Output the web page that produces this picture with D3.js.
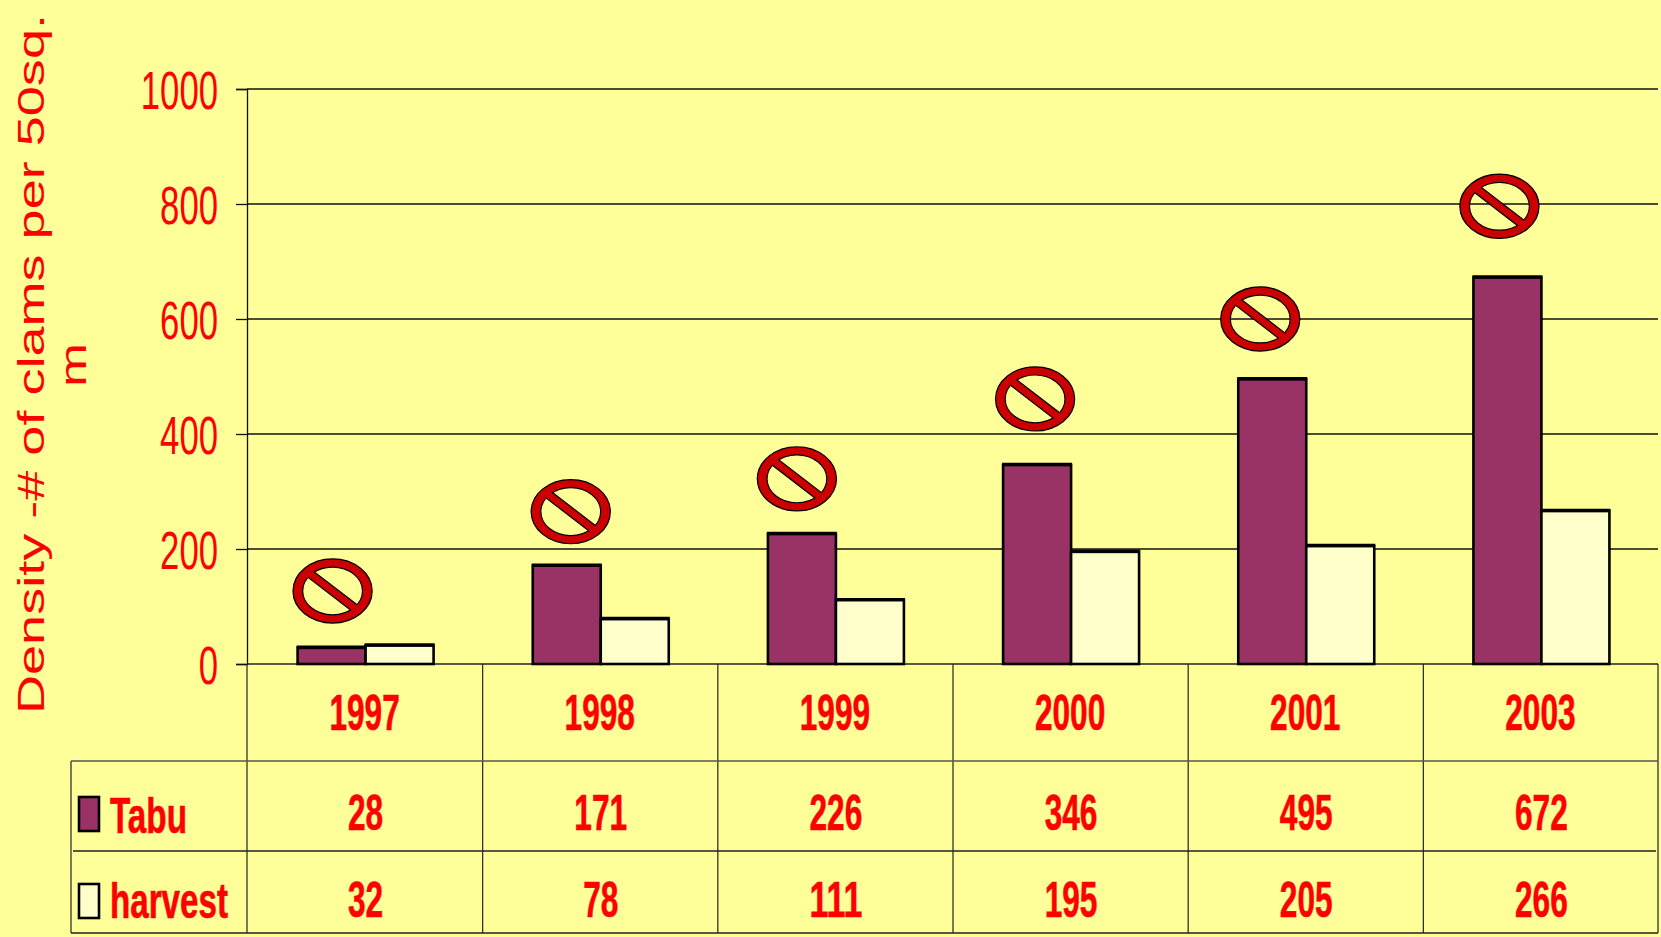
<!DOCTYPE html>
<html>
<head>
<meta charset="utf-8">
<script src="https://cdn.jsdelivr.net/npm/d3@7"></script>
<style>
	html, body { margin: 0; padding: 0; background: #FFFF99; overflow: hidden; }
	text { font-family: "Liberation Sans", Arial, sans-serif; fill: #FF0000; }
</style>
</head>
<body>
<div id="chart-area"></div>
<script>
// Data
const years = ["1997", "1998", "1999", "2000", "2001", "2003"]
const tabu = [28, 171, 226, 346, 495, 672]
const harvest = [32, 78, 111, 195, 205, 266]
const yTicks = [0, 200, 400, 600, 800, 1000]
// height of each "no" sign on the value scale
const signLevels = [127, 265, 322, 461, 600, 796]

const seriesNames = ["Tabu", "harvest"]
const seriesColors = ["#993366", "#FFFFCC"]

// Canvas
const width = 1661, height = 937
const plot = { left: 247, right: 1658, top: 89, bottom: 664 }
const rowLines = [664, 761, 851, 933]
const tableLeft = 71

const svg = d3.select("#chart-area")
	.append("svg")
	.attr("width", width)
	.attr("height", height)
	.style("display", "block")

// Scales
const x = d3.scaleBand().domain(years).range([plot.left, plot.right])
const y = d3.scaleLinear().domain([0, 1000]).range([plot.bottom, plot.top])
const barWidth = 68
const signShift = [-33, -30, -39, -36, -46, -42]

// Gridlines and y axis
const yAxis = svg.append("g")
	.attr("transform", `translate(${plot.left}, 0)`)
	.call(d3.axisLeft(y).tickValues(yTicks).tickFormat(d3.format("d")).tickSize(11).tickPadding(18))

yAxis.select(".domain").attr("stroke", "#111").attr("stroke-width", 1.3)
yAxis.selectAll(".tick line").attr("stroke", "#111").attr("stroke-width", 1.3)
yAxis.selectAll(".tick text")
	.attr("font-family", "Liberation Sans")
	.attr("font-size", 54)
	.attr("dy", "0.36em")
	.attr("fill", "#FF0000")
	.attr("textLength", d => String(d).length * 19.3)
	.attr("lengthAdjust", "spacingAndGlyphs")

svg.append("g").selectAll("line")
	.data(yTicks.filter(d => d > 0))
	.join("line")
	.attr("x1", plot.left)
	.attr("x2", plot.right)
	.attr("y1", d => y(d))
	.attr("y2", d => y(d))
	.attr("stroke", "#111")
	.attr("stroke-width", 1.4)

// Table lines
const table = svg.append("g").attr("stroke", "#222").attr("fill", "none")

table.selectAll(".col")
	.data(years.slice(1))
	.join("line")
	.attr("class", "col")
	.attr("x1", d => x(d) + 0.5)
	.attr("x2", d => x(d) + 0.5)
	.attr("y1", rowLines[0])
	.attr("y2", rowLines[3])
	.attr("stroke-width", 1.2)

table.append("line").attr("x1", plot.left).attr("x2", plot.left)
	.attr("y1", rowLines[0]).attr("y2", rowLines[3]).attr("stroke-width", 1.2)
table.append("line").attr("x1", plot.right).attr("x2", plot.right)
	.attr("y1", rowLines[0]).attr("y2", rowLines[3]).attr("stroke-width", 1.2)
table.append("line").attr("x1", tableLeft).attr("x2", tableLeft)
	.attr("y1", rowLines[1]).attr("y2", rowLines[3]).attr("stroke-width", 1.2)

table.append("line").attr("x1", plot.left).attr("x2", plot.right)
	.attr("y1", rowLines[0]).attr("y2", rowLines[0]).attr("stroke-width", 1.4)
table.append("line").attr("x1", tableLeft).attr("x2", plot.right)
	.attr("y1", rowLines[1]).attr("y2", rowLines[1]).attr("stroke", "#555").attr("stroke-width", 1.6)
table.append("line").attr("x1", tableLeft + 2).attr("x2", plot.right - 2)
	.attr("y1", rowLines[2]).attr("y2", rowLines[2]).attr("stroke-width", 1.4)
table.append("line").attr("x1", tableLeft).attr("x2", plot.right)
	.attr("y1", rowLines[3]).attr("y2", rowLines[3]).attr("stroke-width", 1.4)

// Bars
const center = d => x(d) + x.bandwidth() / 2 + 1

function drawBars(values, color, offset) {
	const bars = svg.append("g")
	bars.selectAll("rect")
		.data(values)
		.join("rect")
		.attr("x", (d, i) => center(years[i]) + offset)
		.attr("y", d => y(d))
		.attr("width", barWidth)
		.attr("height", d => plot.bottom - y(d))
		.attr("fill", color)
		.attr("stroke", "#000")
		.attr("stroke-width", 2.6)
	// the top edge is heavier than the sides
	bars.selectAll("line")
		.data(values)
		.join("line")
		.attr("x1", (d, i) => center(years[i]) + offset - 1)
		.attr("x2", (d, i) => center(years[i]) + offset + barWidth + 1)
		.attr("y1", d => y(d) - 1)
		.attr("y2", d => y(d) - 1)
		.attr("stroke", "#000")
		.attr("stroke-width", 2.6)
}
drawBars(tabu, seriesColors[0], -barWidth)
drawBars(harvest, seriesColors[1], 0)

// "No" signs: black outline first, then the red fill on top so ring and bar merge
const signs = svg.append("g").selectAll("g")
	.data(signLevels)
	.join("g")
	.attr("transform", (d, i) => `translate(${center(years[i]) + signShift[i]}, ${y(d)})`)

const ringPath = "M-39,0A39,31.5 0 1,1 39,0A39,31.5 0 1,1 -39,0ZM-30.5,0A30.5,24.5 0 1,0 30.5,0A30.5,24.5 0 1,0 -30.5,0Z"
const slashPath = "M-28,-17L-23,-22L29,18L24,23Z"

signs.append("path")
	.attr("d", ringPath)
	.attr("fill", "#CC0000")
	.attr("fill-rule", "evenodd")
	.attr("stroke", "#000")
	.attr("stroke-width", 2.4)
signs.append("path")
	.attr("d", slashPath)
	.attr("fill", "#CC0000")
	.attr("stroke", "#000")
	.attr("stroke-width", 2.4)
signs.append("path")
	.attr("d", ringPath)
	.attr("fill", "#CC0000")
	.attr("fill-rule", "evenodd")
signs.append("path")
	.attr("d", slashPath)
	.attr("fill", "#CC0000")

// Table text
const cellText = (sel) => sel
	.attr("text-anchor", "middle")
	.attr("font-weight", "bold")
	.attr("font-size", 50)
	.attr("textLength", d => String(d).length * 17.6)
	.attr("lengthAdjust", "spacingAndGlyphs")
	.style("stroke", "#FF0000")
	.style("stroke-width", 0.6)
	.text(d => d)

svg.append("g").selectAll("text")
	.data(years)
	.join("text")
	.attr("x", d => center(d) - 1)
	.attr("y", 730)
	.call(cellText)

svg.append("g").selectAll("text")
	.data(tabu)
	.join("text")
	.attr("x", (d, i) => center(years[i]))
	.attr("y", 830)
	.call(cellText)

svg.append("g").selectAll("text")
	.data(harvest)
	.join("text")
	.attr("x", (d, i) => center(years[i]))
	.attr("y", 917)
	.call(cellText)

// Legend keys in the table
const legendY = [797, 884]
const legendBaseline = [833, 918]
const legendWidth = [77, 118]

svg.append("g").selectAll("rect")
	.data(seriesNames)
	.join("rect")
	.attr("x", 79)
	.attr("y", (d, i) => legendY[i])
	.attr("width", 20)
	.attr("height", 34)
	.attr("fill", (d, i) => seriesColors[i])
	.attr("stroke", "#000")
	.attr("stroke-width", 2.6)

svg.append("g").selectAll("text")
	.data(seriesNames)
	.join("text")
	.attr("x", 110)
	.attr("y", (d, i) => legendBaseline[i])
	.attr("font-weight", "bold")
	.attr("font-size", 50)
	.attr("textLength", (d, i) => legendWidth[i])
	.attr("lengthAdjust", "spacingAndGlyphs")
	.style("stroke", "#FF0000")
	.style("stroke-width", 0.6)
	.text(d => d)

// Axis title
const yLabel = svg.append("g").attr("text-anchor", "middle")

yLabel.append("text")
	.attr("transform", "translate(44, 364) rotate(-90)")
	.attr("font-size", 36)
	.attr("textLength", 700)
	.attr("lengthAdjust", "spacingAndGlyphs")
	.text("Density -# of clams per 50sq.")

yLabel.append("text")
	.attr("transform", "translate(86, 365) rotate(-90)")
	.attr("font-size", 36)
	.attr("textLength", 44)
	.attr("lengthAdjust", "spacingAndGlyphs")
	.text("m")
</script>
</body>
</html>
